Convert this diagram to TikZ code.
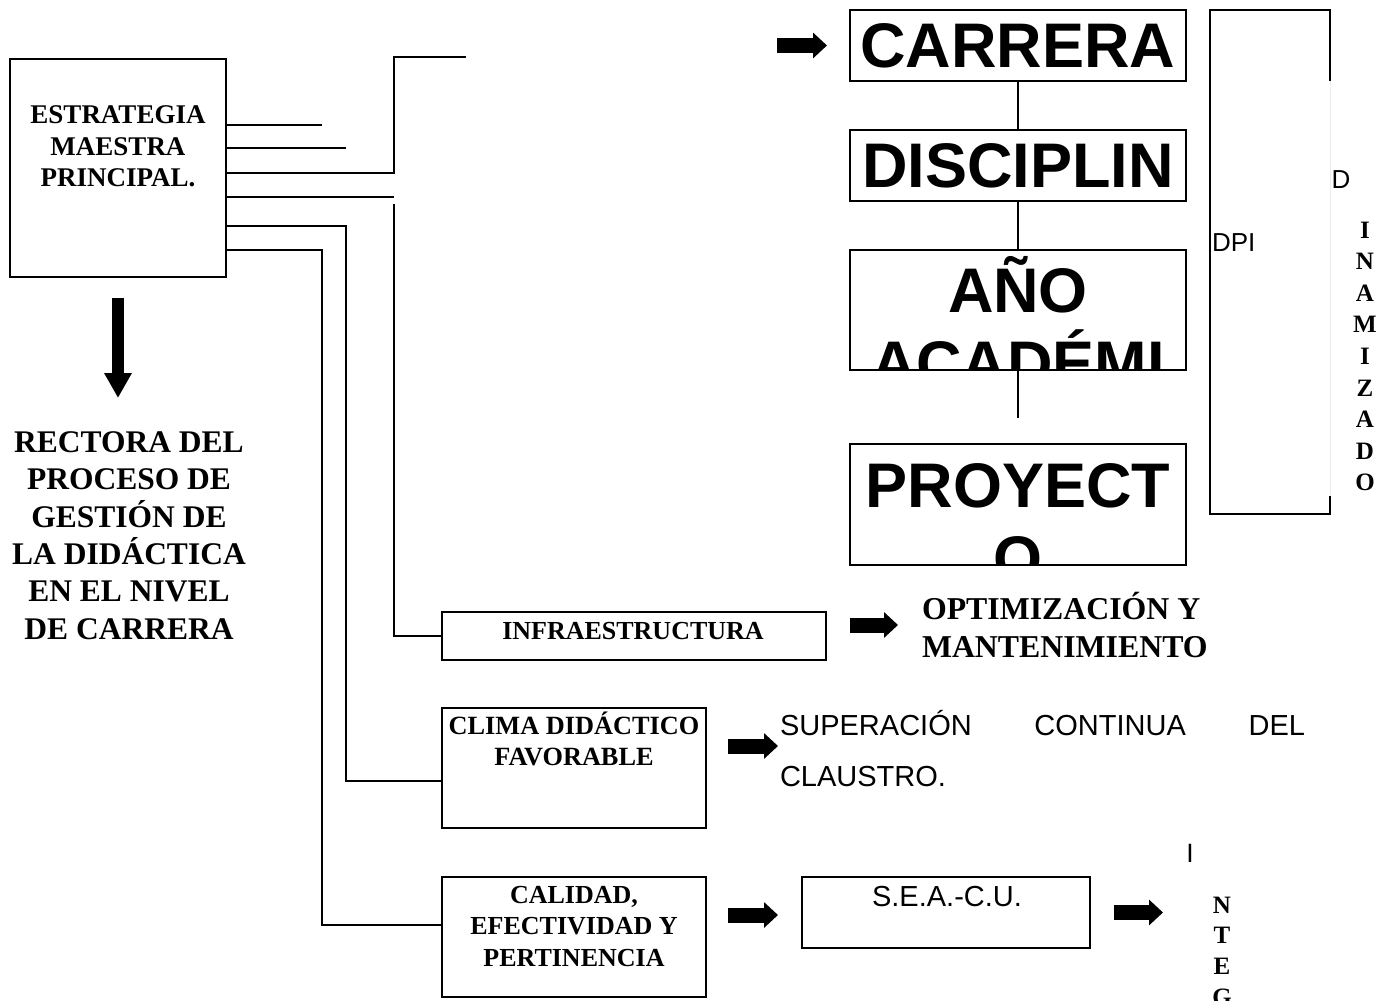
\documentclass[tikz,border=0pt]{standalone}
\usepackage{fontspec}
\setmainfont{Liberation Serif}
\newfontfamily\arialf{Liberation Sans}
\usetikzlibrary{arrows.meta,calc}
\begin{document}
\begin{tikzpicture}[x=1pt,y=-1pt,
  every node/.style={inner sep=0pt, outer sep=0pt},
  box/.style={draw, line width=1.5pt, rectangle},
  conn/.style={line width=1.5pt},
  serifb/.style n args={2}{font=\bfseries\fontsize{#1}{#2}\selectfont, align=center},
  sansr/.style n args={2}{font=\arialf\fontsize{#1}{#2}\selectfont, align=center},
  bigtxt/.style={font=\arialf\bfseries\fontsize{63}{73}\selectfont},
  rarrow/.style={line width=15pt, -{Triangle[length=14pt,width=25pt]}},
  darrow/.style={line width=12pt, -{Triangle[length=25pt,width=26pt]}}
]
\useasboundingbox (0,0) rectangle (1392,1001);

% main box
\node[box, minimum width=216pt, minimum height=218pt] (main) at (118,168) {};
\node[serifb={27}{31.5}] (maintxt) at (118,146.5) {ESTRATEGIA\\MAESTRA\\PRINCIPAL.};
\draw[darrow] ($(main.south)+(0,21)$) -- ($(main.south)+(0,121)$);
\node[serifb={31.5}{37.4}] (rect) at (129,535.5) {RECTORA DEL\\PROCESO DE\\GESTIÓN DE\\LA DIDÁCTICA\\EN EL NIVEL\\DE CARRERA};

% lower boxes
\node[box, minimum width=384pt, minimum height=48pt] (infra) at (634,636) {};
\node[serifb={26}{30}] (infratxt) at (633,631) {INFRAESTRUCTURA};
\node[box, minimum width=264pt, minimum height=120pt] (clima) at (574,768) {};
\node[serifb={26.3}{31}] (climatxt) at (574,739) {CLIMA DIDÁCTICO\\FAVORABLE};
\node[box, minimum width=264pt, minimum height=120pt] (calidad) at (574,937) {};
\node[serifb={26}{31.5}] (calidadtxt) at (574,926.5) {CALIDAD,\\EFECTIVIDAD Y\\PERTINENCIA};
\node[box, minimum width=288pt, minimum height=71pt] (seacu) at (946,912.5) {};
\node[sansr={29}{34}] (seacutxt) at (947,897) {S.E.A.-C.U.};

\node[serifb={31.8}{38}, align=left, anchor=west] (optim) at (922,625) {OPTIMIZACIÓN Y\\MANTENIMIENTO};
\node[sansr={29}{51}, align=left, text width=525pt, anchor=west] (super) at (780,749) {SUPERACIÓN\hfill CONTINUA\hfill DEL\\CLAUSTRO.};

% connectors from main box
\coordinate (t1) at (322,125);
\coordinate (t2) at (346,148);
\coordinate (b3) at (394,173);
\coordinate (t3) at (466,57);
\coordinate (t4) at (394,197);
\coordinate (s5) at (394,204);
\coordinate (b6) at (346,226);
\coordinate (b7) at (322,250);
\draw[conn] (main.east |- t1) -- (t1);
\draw[conn] (main.east |- t2) -- (t2);
\draw[conn] (main.east |- b3) -- (b3) |- (t3);
\draw[conn] (main.east |- t4) -- (t4);
\draw[conn] (s5) |- (infra.west);
\draw[conn] (main.east |- b6) -- (b6) |- ([yshift=-13pt]clima.west);
\draw[conn] (main.east |- b7) -- (b7) |- ([yshift=12pt]calidad.west);

% right column
\node[box, minimum width=336pt, minimum height=71pt, bigtxt] (carrera) at (1018,45.5) {CARRERA};
\node[box, minimum width=336pt, minimum height=71pt, bigtxt] (disciplin) at (1018,165.5) {DISCIPLIN};
\node[box, minimum width=336pt, minimum height=120pt] (ano) at (1018,310) {};
\begin{scope}
  \clip (ano.south west) rectangle (ano.north east);
  \node[bigtxt, anchor=base] (anotxt) at (1018,312) {AÑO};
  \node[bigtxt, anchor=base] (acadtxt) at (1018,385) {ACADÉMI};
\end{scope}
\node[box, minimum width=336pt, minimum height=121pt] (proy) at (1018,504.5) {};
\begin{scope}
  \clip (proy.south west) rectangle (proy.north east);
  \node[bigtxt, anchor=base] (proytxt) at (1018,507) {PROYECT};
  \node[bigtxt, anchor=base] (otxt) at (1018,580) {O};
\end{scope}
\draw[conn] (carrera) -- (disciplin);
\draw[conn] (disciplin) -- (ano);
\draw[conn] (ano.south) -- ++(0,48);

% DPI box
\node[minimum width=120pt, minimum height=504pt] (dpi) at (1270,262) {};
\draw[gray!15, line width=1pt] ($(dpi.north east)+(0,71)$) -- ($(dpi.south east)+(0,-18)$);
\draw[conn] ($(dpi.north east)+(0,71)$) -- (dpi.north east) -- (dpi.north west) -- (dpi.south west) -- (dpi.south east) -- ++(0,-18);
\node[sansr={26}{30}, anchor=west] (dpitxt) at (1212,243) {DPI};
\node[sansr={26}{30}] (dtxt) at (1341,180) {D};
\node[serifb={25}{31.6}] (inam) at (1365,356.5) {I\\N\\A\\M\\I\\Z\\A\\D\\O};
\node[sansr={26.5}{30}] (itxt) at (1190,853) {I};
\node[serifb={25}{30.7}] (nteg) at (1222,951) {N\\T\\E\\G};

% block arrows
\draw[rarrow] ($(carrera.west)+(-73,0)$) -- ($(carrera.west)+(-23,0)$);
\draw[rarrow] ($(infra.east)+(24,-11)$) -- ($(infra.east)+(72,-11)$);
\draw[rarrow] ($(clima.east)+(22,-22)$) -- ($(clima.east)+(72,-22)$);
\draw[rarrow] ($(calidad.east)+(22,-22)$) -- ($(calidad.east)+(72,-22)$);
\draw[rarrow] ($(seacu.east)+(24,0)$) -- ($(seacu.east)+(73,0)$);
\end{tikzpicture}
\end{document}
